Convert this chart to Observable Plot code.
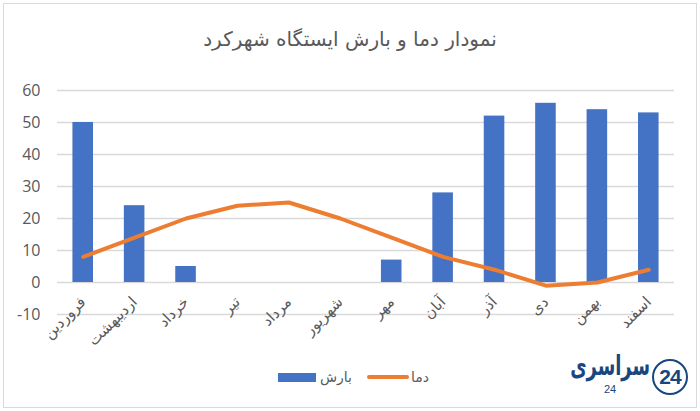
<!DOCTYPE html>
<html lang="fa">
<head>
<meta charset="utf-8">
<script src="https://cdn.jsdelivr.net/npm/d3@7"></script>
<script src="https://cdn.jsdelivr.net/npm/@observablehq/plot@0.6"></script>
<style>
html,body{margin:0;padding:0;background:#fff;}
#wrap{position:relative;width:700px;height:411px;overflow:hidden;font-family:"DejaVu Sans",sans-serif;color:#595959;}
#frame{position:absolute;left:3px;top:3px;width:692px;height:403px;border:1.5px solid #D9D9D9;box-sizing:content-box;pointer-events:none;}
#title{position:absolute;left:0;width:700px;top:24px;text-align:center;font-size:20px;line-height:30px;direction:rtl;}
#chart{position:absolute;left:0;top:0;}
.lg{position:absolute;}
.lgt{position:absolute;font-size:14px;line-height:18px;top:368px;direction:rtl;}
#brand{position:absolute;left:552px;top:354px;width:118px;height:24px;text-align:center;color:#17477E;font-weight:700;font-size:27px;line-height:24px;direction:rtl;white-space:nowrap;transform:scaleX(.66);transform-origin:center;}
#brand24{position:absolute;left:600px;top:384px;width:20px;text-align:center;color:#17477E;font-size:11px;line-height:11px;font-family:"Liberation Sans";}
#clock{position:absolute;left:652px;top:359px;width:32px;height:32px;border:2.5px solid #17477E;border-radius:50%;text-align:center;color:#17477E;font:700 21px/32px "Liberation Sans";letter-spacing:-1px;}
</style>
</head>
<body>
<div id="wrap">
  <div id="chart"></div>
  <div id="frame"></div>
  <div id="title">نمودار دما و بارش ایستگاه شهرکرد</div>
  <div class="lg" style="left:278px;top:373px;width:38px;height:9px;background:#4472C4"></div>
  <div class="lgt" style="left:320px">بارش</div>
  <div class="lg" style="left:367px;top:375px;width:42px;height:4px;border-radius:2px;background:#ED7D31"></div>
  <div class="lgt" style="left:411px">دما</div>
  <div id="brand">سراسری</div>
  <div id="brand24">24</div>
  <div id="clock">24</div>
</div>
<script>
const months = ["فروردین","اردیبهشت","خرداد","تیر","مرداد","شهریور","مهر","آبان","آذر","دی","بهمن","اسفند"];
const rain = [50,24,5,0,0,0,7,28,52,56,54,53];
const temp = [8,14,20,24,25,20,14,8,4,-1,0,4];
const yTicks = [-10,0,10,20,30,40,50,60];
const rows = months.map((m,i)=>({m,rain:rain[i],temp:temp[i]}));
const chart = Plot.plot({
  width:700,height:411,
  marginTop:90,marginBottom:97,marginLeft:57,marginRight:26,
  style:{background:"transparent",fontFamily:"'DejaVu Sans',sans-serif",color:"#595959"},
  x:{domain:months,paddingInner:0.6,paddingOuter:0.3,round:false,label:null},
  y:{domain:[-10,60],label:null},
  marks:[
    Plot.ruleY(yTicks,{stroke:"#D9D9D9",strokeWidth:1.5}),
    Plot.axisY({ticks:yTicks,tickSize:0,tickPadding:17,label:null,fontSize:16,fontFamily:"'Open Sans',sans-serif",fill:"#595959",tickFormat:d=>String(d)}),
    Plot.barY(rows,{x:"m",y:"rain",fill:"#4472C4"}),
    Plot.lineY(rows,{x:"m",y:"temp",stroke:"#ED7D31",strokeWidth:4,curve:"linear"}),
    Plot.axisX({tickSize:0,tickRotate:-45,tickPadding:0,dy:-15,label:null,fontSize:15,fill:"#595959"})
  ]
});
document.getElementById("chart").appendChild(chart);
</script>
</body>
</html>
